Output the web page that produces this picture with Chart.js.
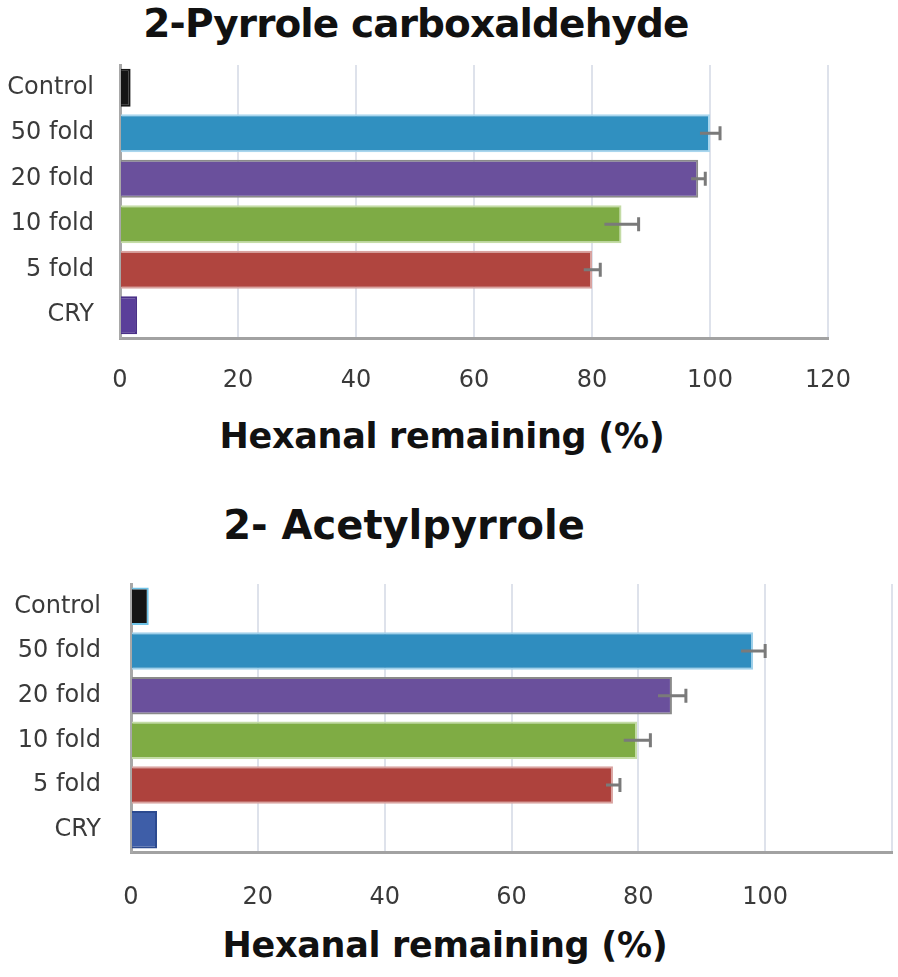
<!DOCTYPE html>
<html>
<head>
<meta charset="utf-8">
<script src="https://cdn.jsdelivr.net/npm/chart.js@4.4.1/dist/chart.umd.min.js"></script>
<style>
  html, body { margin: 0; padding: 0; background: #ffffff; overflow: hidden; }
  #root { position: relative; width: 898px; height: 977px; background: #fff; overflow: hidden; }
  .wrap { position: absolute; left: 0; }
  .ttl { position: absolute; width: 700px; text-align: center; font-family: "DejaVu Sans", sans-serif; font-weight: bold; color: #111; white-space: nowrap; line-height: normal; }
</style>
</head>
<body>
<div id="root">
  <div class="ttl" style="left:66px; top:1px; font-size:39px; letter-spacing:-0.9px;">2-Pyrrole carboxaldehyde</div>
  <div class="ttl" style="left:92px; top:416px; font-size:35px; letter-spacing:-0.3px;">Hexanal remaining (%)</div>
  <div class="ttl" style="left:54px; top:502px; font-size:40px;">2- Acetylpyrrole</div>
  <div class="ttl" style="left:95px; top:925px; font-size:35px; letter-spacing:-0.3px;">Hexanal remaining (%)</div>

  <div class="wrap" style="top:0px; width:898px; height:400px;"><canvas id="c1" width="898" height="400"></canvas></div>
  <div class="wrap" style="top:520px; width:940px; height:405px;"><canvas id="c2" width="940" height="405"></canvas></div>
</div>
<script>
// ---- data ----
const categories = ["Control", "50 fold", "20 fold", "10 fold", "5 fold", "CRY"];

const pyrroleCarboxValues = [1.8, 100, 98, 85, 80, 2.9];
const pyrroleCarboxErrors = [0, 1.7, 1.2, 2.9, 1.4, 0];

const acetylpyrroleValues = [2.8, 98.1, 85.3, 79.8, 76, 4.1];
const acetylpyrroleErrors = [0, 1.9, 2.2, 2.1, 1.1, 0];

const xTickLabels1 = [0, 20, 40, 60, 80, 100, 120];
const xTickLabels2 = [0, 20, 40, 60, 80, 100];

const fill1 = ["#151515", "#3090c0", "#6a509c", "#7eab45", "#b0453f", "#5a3f9a"];
const border1 = ["#151515", "#a9d6ee", "#8a8a8a", "#c4dca6", "#d9a3a0", "#4a3088"];
const fill2 = ["#151515", "#2f8dbf", "#6a509c", "#7fac44", "#ae423d", "#3e5ea8"];
const border2 = ["#6fc3e8", "#9fd0ea", "#8a8a8a", "#c4dca6", "#d9a3a0", "#2c4a8f"];

// error bars drawn through the chart's own scales
const errorBarPlugin = {
  id: 'errorBars',
  afterDatasetsDraw(chart, args, opts) {
    const errs = opts.errors || [];
    const meta = chart.getDatasetMeta(0);
    const xs = chart.scales.x;
    const vals = chart.data.datasets[0].data;
    const ctx = chart.ctx;
    ctx.save();
    ctx.strokeStyle = '#7a7a7a';
    ctx.lineWidth = 3;
    meta.data.forEach((bar, i) => {
      const e = errs[i];
      if (!e) return;
      const x0 = xs.getPixelForValue(vals[i] - e);
      const x1 = xs.getPixelForValue(vals[i] + e);
      const y = bar.y;
      ctx.beginPath();
      ctx.moveTo(x0, y); ctx.lineTo(x1, y);
      ctx.moveTo(x1, y - 7); ctx.lineTo(x1, y + 7);
      ctx.stroke();
    });
    ctx.restore();
  }
};

function makeChart(id, values, errors, fills, borders, tickList, yWidth, xHeight, pad, tickPad, yTickPad) {
  return new Chart(document.getElementById(id), {
    type: 'bar',
    data: {
      labels: categories,
      datasets: [{
        data: values,
        backgroundColor: fills,
        borderColor: borders,
        borderWidth: 2,
        borderSkipped: 'start',
        barPercentage: 0.84,
        categoryPercentage: 1.0
      }]
    },
    plugins: [errorBarPlugin],
    options: {
      indexAxis: 'y',
      responsive: false,
      animation: false,
      layout: { padding: pad },
      plugins: {
        legend: { display: false },
        title: { display: false },
        tooltip: { enabled: false },
        errorBars: { errors: errors }
      },
      scales: {
        x: {
          min: 0, max: 120,
          ticks: {
            stepSize: 20,
            padding: tickPad,
            color: '#3a3a3a',
            font: { family: 'DejaVu Sans', size: 24 },
            callback: (v) => tickList.includes(v) ? String(v) : ''
          },
          grid: { display: true, color: 'rgba(195,203,218,0.55)', lineWidth: 2, drawTicks: false },
          border: { display: true, color: '#a2a2a2', width: 3 },
          afterFit: (s) => { s.height = xHeight; }
        },
        y: {
          ticks: {
            padding: yTickPad,
            color: '#3a3a3a',
            font: { family: 'DejaVu Sans', size: 24 }
          },
          grid: { display: false, drawTicks: false },
          border: { display: true, color: '#a8a8a8', width: 3 },
          afterFit: (s) => { s.width = yWidth; }
        }
      }
    }
  });
}

makeChart('c1', pyrroleCarboxValues, pyrroleCarboxErrors, fill1, border1, xTickLabels1,
  120, 62, { top: 65, right: 70, left: 0, bottom: 0 }, 28, 26);
makeChart('c2', acetylpyrroleValues, acetylpyrroleErrors, fill2, border2, xTickLabels2,
  131, 73, { top: 64, right: 48, left: 0, bottom: 0 }, 31, 30);
</script>
</body>
</html>
